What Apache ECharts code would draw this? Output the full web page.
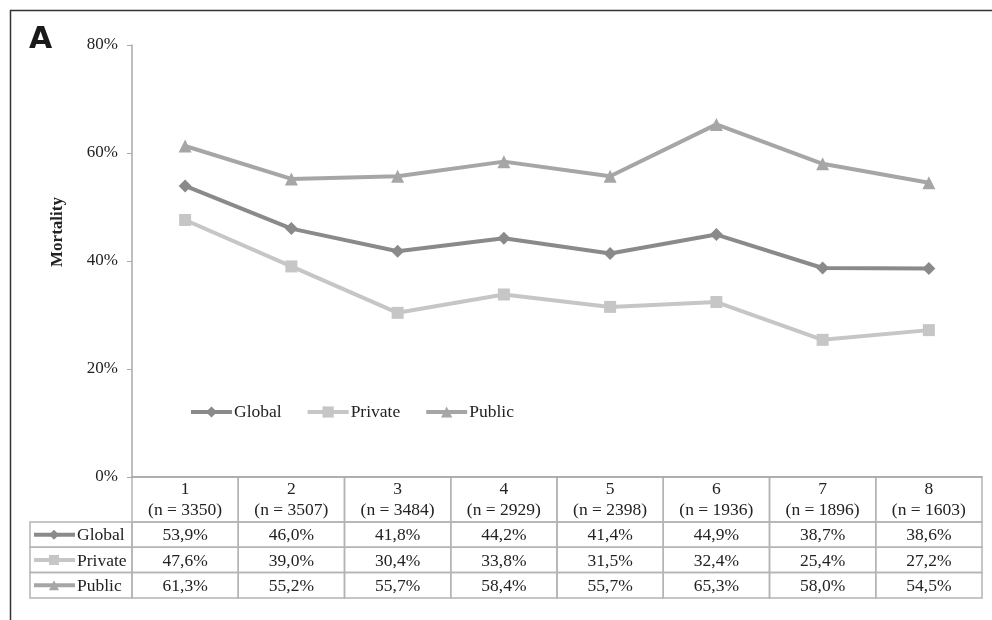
<!DOCTYPE html>
<html>
<head>
<meta charset="utf-8">
<script src="https://cdn.jsdelivr.net/npm/echarts@6/dist/echarts.min.js"></script>
<style>
  html, body { margin: 0; padding: 0; background: #fff; }
  #chart { width: 992px; height: 620px; }
</style>
</head>
<body>
<div id="chart"></div>
<script>
// periods and number of patients
const categories = ["1", "2", "3", "4", "5", "6", "7", "8"];
const nCounts = [3350, 3507, 3484, 2929, 2398, 1936, 1896, 1603];

// mortality, %
const globalVals = [53.9, 46.0, 41.8, 44.2, 41.4, 44.9, 38.7, 38.6];
const privateVals = [47.6, 39.0, 30.4, 33.8, 31.5, 32.4, 25.4, 27.2];
const publicVals = [61.3, 55.2, 55.7, 58.4, 55.7, 65.3, 58.0, 54.5];

const yTicks = [0, 20, 40, 60, 80];

const serif = "Liberation Serif";
const fs = 17.5;
const colors = { Global: "#8a8a8a", Private: "#c6c6c6", Public: "#a6a6a6" };
const symbols = { Global: "diamond", Private: "rect", Public: "triangle" };

let chart = echarts.init(document.getElementById("chart"));

const rows = [
  { name: "Global", data: globalVals },
  { name: "Private", data: privateVals },
  { name: "Public", data: publicVals },
];

let option = {
  animation: false,
  backgroundColor: "#fff",
  grid: { left: 132, right: 10, top: 45, bottom: 143 },
  legend: {
    left: 184,
    top: 398,
    itemWidth: 41,
    itemHeight: 14,
    itemGap: 24,
    lineStyle: { width: 4 },
    textStyle: { fontFamily: serif, fontSize: fs, color: "#222", padding: [0, 0, 0, -3] },
    data: rows.map((r) => r.name),
  },
  xAxis: {
    type: "category",
    data: categories,
    boundaryGap: true,
    axisLine: { lineStyle: { color: "#a8a8a8", width: 1.5 } },
    axisTick: { show: false },
    axisLabel: { show: false },
  },
  yAxis: {
    type: "value",
    min: yTicks[0],
    max: yTicks[yTicks.length - 1],
    interval: 20,
    name: "Mortality",
    nameLocation: "middle",
    nameRotate: 90,
    nameGap: 66,
    nameTextStyle: {
      fontFamily: serif,
      fontSize: 17,
      fontWeight: "bold",
      color: "#222",
      padding: [0, 0, 0, 58],
    },
    axisLine: { show: true, lineStyle: { color: "#a8a8a8", width: 1.5 } },
    axisTick: { show: true, inside: false, length: 5, lineStyle: { color: "#a8a8a8" } },
    splitLine: { show: false },
    axisLabel: {
      formatter: "{value}%",
      fontFamily: serif,
      fontSize: 17,
      color: "#222",
      margin: 14,
    },
  },
  series: rows.map((r) => ({
    name: r.name,
    type: "line",
    data: r.data,
    symbol: symbols[r.name],
    symbolSize: r.name === "Private" ? 12 : 13,
    lineStyle: { width: 4, color: colors[r.name] },
    itemStyle: { color: colors[r.name] },
  })),
};

chart.setOption(option);

// data table under the plot, laid out from the category axis
function buildTable() {
  const x0 = chart.convertToPixel({ xAxisIndex: 0 }, 0);
  const x1 = chart.convertToPixel({ xAxisIndex: 0 }, 1);
  const step = x1 - x0;
  const left = x0 - step / 2;
  const axisY = chart.convertToPixel({ yAxisIndex: 0 }, 0);
  const headTop = axisY;
  const headH = 45;
  const rowH = 25.3;
  const tableLeft = 30;
  const lineColor = "#b4b4b4";
  const els = [];
  const textStyle = (txt, x, y) => ({
    type: "text",
    x: x,
    y: y,
    style: {
      text: txt,
      fontFamily: serif,
      fontSize: fs,
      fill: "#222",
      align: "center",
      verticalAlign: "middle",
    },
  });

  // header cells
  categories.forEach((c, i) => {
    const cx = left + step * i;
    els.push({
      type: "rect",
      shape: { x: cx, y: headTop, width: step, height: headH },
      style: { fill: "none", stroke: lineColor, lineWidth: 1.5 },
    });
    els.push(textStyle(c, cx + step / 2, headTop + 12));
    els.push(textStyle("(n = " + nCounts[i] + ")", cx + step / 2, headTop + 33));
  });

  // value rows
  rows.forEach((r, k) => {
    const ry = headTop + headH + rowH * k;
    els.push({
      type: "rect",
      shape: { x: tableLeft, y: ry, width: left - tableLeft, height: rowH },
      style: { fill: "none", stroke: lineColor, lineWidth: 1.5 },
    });
    // legend key inside the row label cell
    els.push({
      type: "line",
      shape: { x1: tableLeft + 4, y1: ry + rowH / 2, x2: tableLeft + 45, y2: ry + rowH / 2 },
      style: { stroke: colors[r.name], lineWidth: 4 },
    });
    els.push({
      type: "text",
      x: tableLeft + 47,
      y: ry + rowH / 2 + 1,
      style: {
        text: r.name,
        fontFamily: serif,
        fontSize: fs,
        fill: "#222",
        align: "left",
        verticalAlign: "middle",
      },
    });
    r.data.forEach((v, i) => {
      const cx = left + step * i;
      els.push({
        type: "rect",
        shape: { x: cx, y: ry, width: step, height: rowH },
        style: { fill: "none", stroke: lineColor, lineWidth: 1.5 },
      });
      els.push(textStyle(v.toFixed(1).replace(".", ",") + "%", cx + step / 2, ry + rowH / 2 + 1));
    });
  });

  // key markers drawn with the series symbols
  rows.forEach((r, k) => {
    const ry = headTop + headH + rowH * k + rowH / 2;
    const cx = tableLeft + 24;
    const s = 10;
    if (r.name === "Global") {
      els.push({ type: "polygon", shape: { points: [[cx, ry - s / 2], [cx + s / 2, ry], [cx, ry + s / 2], [cx - s / 2, ry]] }, style: { fill: colors[r.name] } });
    } else if (r.name === "Private") {
      els.push({ type: "rect", shape: { x: cx - s / 2, y: ry - s / 2, width: s, height: s }, style: { fill: colors[r.name] } });
    } else {
      els.push({ type: "polygon", shape: { points: [[cx, ry - s / 2], [cx + s / 2, ry + s / 2], [cx - s / 2, ry + s / 2]] }, style: { fill: colors[r.name] } });
    }
  });

  // frame and panel letter
  els.push({
    type: "polyline",
    shape: { points: [[10.5, 620], [10.5, 10.5], [992, 10.5]] },
    style: { stroke: "#333", lineWidth: 1.5, fill: "none" },
  });
  els.push({
    type: "text",
    x: 29,
    y: 25,
    style: {
      text: "A",
      fontFamily: "DejaVu Sans",
      fontWeight: "bold",
      fontSize: 30,
      fill: "#1a1a1a",
    },
  });

  chart.setOption({ graphic: { elements: els } });
}

buildTable();
</script>
</body>
</html>
